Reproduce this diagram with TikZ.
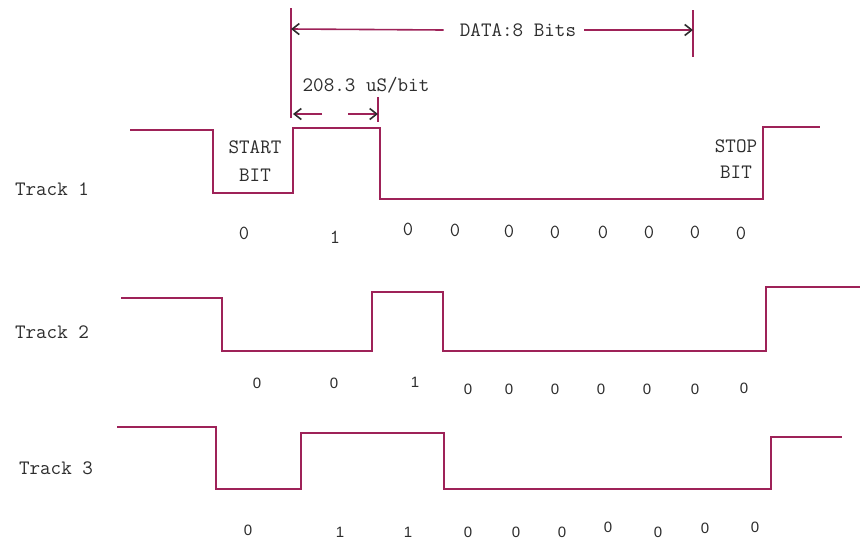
\documentclass[tikz,border=0pt]{standalone}
\usepackage{fontspec}
\setsansfont{Liberation Sans}
\usetikzlibrary{arrows.meta}
\definecolor{wave}{RGB}{158,34,88}
\definecolor{ink}{RGB}{45,45,45}
\tikzset{
        sig/.style={draw=wave, line width=2.2pt, line join=miter},
        lbl/.style={text=ink, font=\ttfamily\fontsize{20.5}{22}\selectfont, inner sep=0pt},
        bit/.style={text=ink, font=\ttfamily\fontsize{20}{21}\selectfont, inner sep=0pt},
        bitsf/.style={text=ink, font=\sffamily\fontsize{15}{16}\selectfont, inner sep=0pt},
        dimarrow/.style={draw=wave, line width=1.6pt,
                         -{Straight Barb[length=7pt,width=11pt,color=ink]}},
        tickline/.style={draw=wave, line width=2pt},
 }

\begin{document}
\begin{tikzpicture}[x=1pt, y=-1pt]
    \useasboundingbox[fill=white] (0,0) rectangle (861,539);

    % track labels
    \node[lbl] (t1) at (52,189) {Track 1};
    \node[lbl] (t2) at (52,332) {Track 2};
    \node[lbl] (t3) at (56,468) {Track 3};

    % waveforms
    \draw[sig] (130,130) -- (213,130) -- (213,193) -- (293,193) -- (293,128)
        -- (380,128) -- (380,199) -- (763,199) -- (763,127) -- (820,127);
    \draw[sig] (121,298) -- (222,298) -- (222,351) -- (372,351) -- (372,292)
        -- (443,292) -- (443,351) -- (766,351) -- (766,287) -- (860,287);
    \draw[sig] (117,427) -- (216,427) -- (216,489) -- (301,489) -- (301,433)
        -- (444,433) -- (444,489) -- (771,489) -- (771,437) -- (842,437);

    \node[lbl] (start) at (255,147) {START};
    \node[lbl] (startbit) at (255,175) {BIT};
    \node[lbl] (stop) at (736,146) {STOP};
    \node[lbl] (stopbit) at (736,172) {BIT};

    % data span
    \draw[tickline] (291,8) -- (291,118);
    \draw[tickline] (693,10) -- (693,57);
    \coordinate (dl) at (291,29);
    \coordinate (dr) at (693,30);
    \node[lbl] (data) at (518,30) {DATA:8 Bits};
    \draw[dimarrow] (data.west) ++(-16,0) -- (dl);
    \draw[dimarrow] (data.east) ++(8,0) -- (dr);

    % bit time
    \node[lbl] (tbit) at (366,85) {208.3 uS/bit};
    \draw[tickline] (378,97) -- (378,122);
    \coordinate (bl) at (293,114);
    \coordinate (br) at (378,114);
    \draw[dimarrow] (322,114) -- (bl);
    \draw[dimarrow] (348,114) -- (br);

    % bit values
    \foreach \x/\y/\b [count=\i] in {244/233/0, 335/237/1, 408/229/0, 455/230/0,
        509/231/0, 555/232/0, 603/232/0, 649/232/0, 695/232/0, 741/233/0}
        \node[bit] (ba\i) at (\x,\y) {\b};
    \foreach \x/\y/\b [count=\i] in {257/383/0, 334/383/0, 415/382/1, 468/389/0,
        509/389/0, 555/389/0, 601/389/0, 647/389/0, 695/389/0, 744/388/0}
        \node[bitsf] (bb\i) at (\x,\y) {\b};
    \foreach \x/\y/\b [count=\i] in {248/530/0, 340/532/1, 408/532/1, 468/532/0,
        516/532/0, 562/532/0, 608/527/0, 658/532/0, 705/528/0, 755/527/0}
        \node[bitsf] (bc\i) at (\x,\y) {\b};
\end{tikzpicture}
\end{document}
